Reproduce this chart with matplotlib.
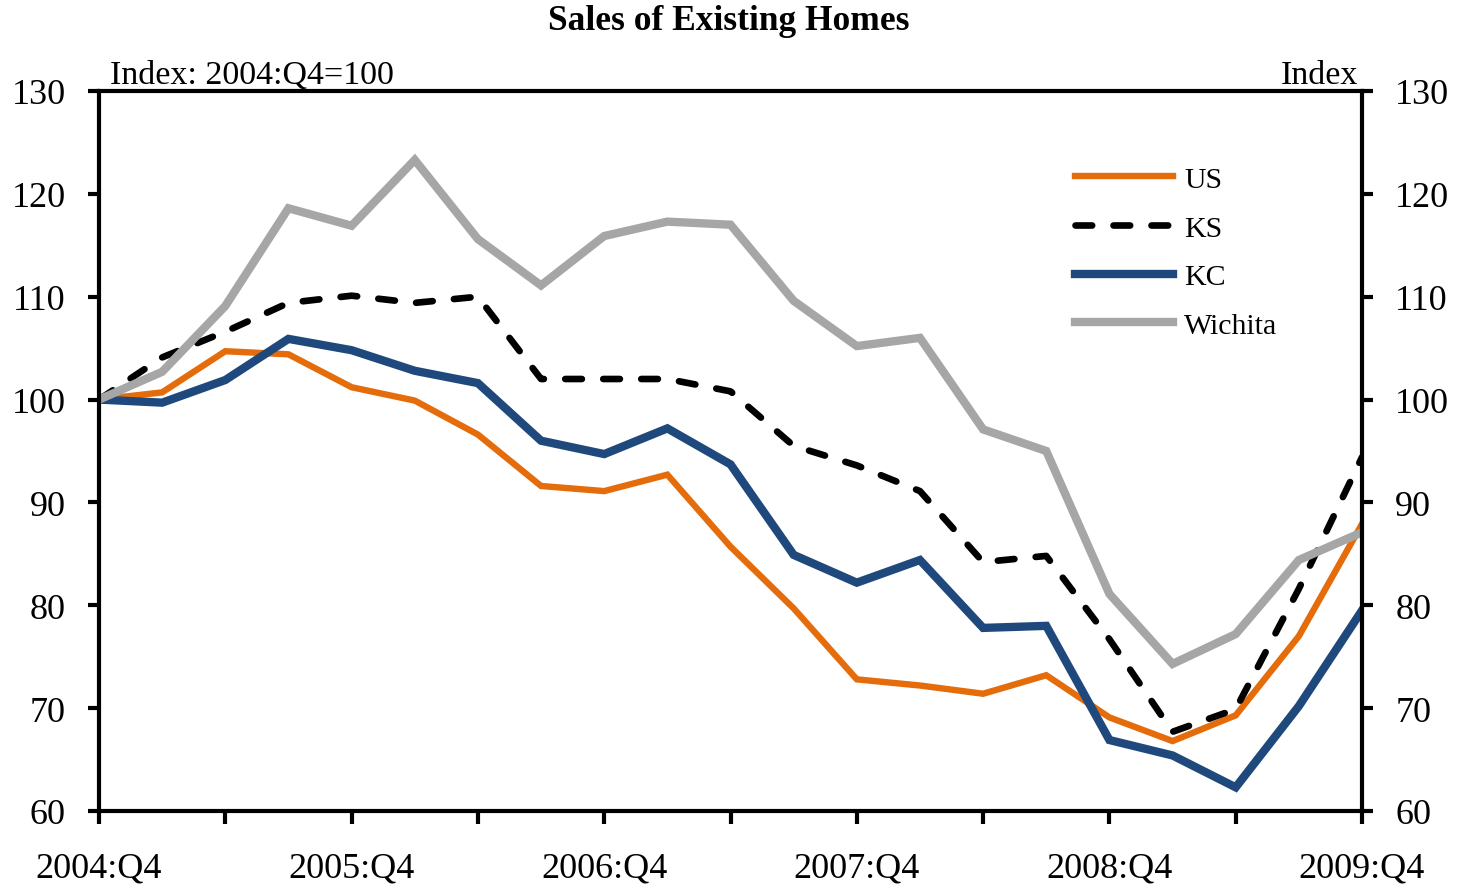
import matplotlib.pyplot as plt

# Datos trimestrales, 2004:Q4 .. 2009:Q4 (índice 2004:Q4=100)
trimestres = list(range(21))
etiquetas_x = ['2004:Q4', '2005:Q4', '2006:Q4', '2007:Q4', '2008:Q4', '2009:Q4']

us = [100.0, 100.7, 104.7, 104.4, 101.2, 99.9, 96.6, 91.6, 91.1, 92.7, 85.7,
      79.7, 72.8, 72.2, 71.4, 73.2, 69.1, 66.8, 69.3, 77.0, 87.9]
ks = [100.0, 104.1, 106.6, 109.4, 110.1, 109.4, 110.0, 102.0, 102.0, 102.0, 100.8,
      95.5, 93.6, 91.1, 84.2, 84.8, 76.7, 67.7, 69.9, 81.6, 94.4]
kc = [100.0, 99.7, 101.9, 105.9, 104.8, 102.8, 101.6, 96.0, 94.7, 97.2, 93.7,
      84.9, 82.2, 84.4, 77.8, 78.0, 66.9, 65.4, 62.3, 70.2, 79.5]
wichita = [100.0, 102.7, 109.1, 118.6, 116.9, 123.3, 115.6, 111.1, 115.9, 117.3, 117.0,
           109.6, 105.2, 106.0, 97.1, 95.0, 81.1, 74.3, 77.2, 84.4, 87.1]

plt.rcParams['font.family'] = ['Liberation Serif', 'DejaVu Serif']

fig = plt.figure(figsize=(14.58, 8.87), dpi=100)
ax = fig.add_axes([99 / 1458, 1 - 812 / 887, (1362 - 99) / 1458, (812 - 92) / 887])

ax.plot(trimestres, us, color='#E46C0A', lw=4.6, label='US', solid_joinstyle='miter')
ax.plot(trimestres, ks, color='black', lw=4.8, ls=(0, (2.5, 3.2)), label='KS',
        dash_capstyle='round')
ax.plot(trimestres, kc, color='#1F497D', lw=6, label='KC', solid_joinstyle='miter')
ax.plot(trimestres, wichita, color='#A6A6A6', lw=6, label='Wichita', solid_joinstyle='miter')

ax.set_xlim(0, 20)
ax.set_ylim(60, 130)
ax.set_yticks(range(60, 131, 10))
ax.set_xticks(range(0, 21, 4))
ax.set_xticklabels(etiquetas_x)
ax.set_xticks(range(2, 21, 4), minor=True)

for lado in ['left', 'right', 'top', 'bottom']:
    ax.spines[lado].set_linewidth(3)

ax.tick_params(axis='y', which='both', direction='out', length=8, width=3,
               labelsize=26, pad=16, left=True, right=True,
               labelleft=True, labelright=True)
ax.tick_params(axis='x', which='both', direction='out', length=9, width=3,
               labelsize=26, pad=20)

fig.text(0.5, 1 - 22 / 887, 'Sales of Existing Homes', ha='center', va='center',
         fontsize=25.5, fontweight='bold')
fig.text(110 / 1458, 1 - 84 / 887, 'Index: 2004:Q4=100', ha='left', va='baseline', fontsize=24.5)
fig.text(1358 / 1458, 1 - 84 / 887, 'Index', ha='right', va='baseline', fontsize=24.5)

ax.legend(loc='upper left', bbox_to_anchor=(1060 / 1458, 1 - 152 / 887),
          bbox_transform=fig.transFigure, frameon=False, fontsize=21.5,
          handlelength=3.3, handletextpad=0.35, labelspacing=0.73, borderpad=0)

fig.savefig('out.png', dpi=100)
